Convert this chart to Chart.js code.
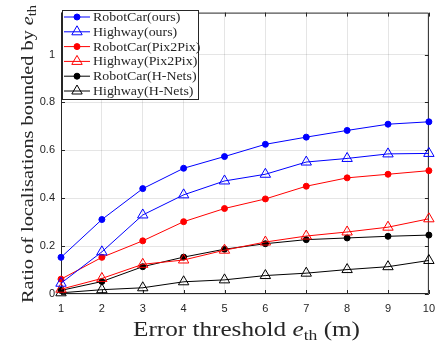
<!DOCTYPE html>
<html>
<head>
<meta charset="utf-8">
<script src="https://cdn.jsdelivr.net/npm/chart.js@4/dist/chart.umd.min.js"></script>
<style>
html,body{margin:0;padding:0;background:#fff;}
#c{display:block;}
</style>
</head>
<body>
<canvas id="c" width="443" height="345"></canvas>
<script>
// ---- data ----
const thresholds = [1, 2, 3, 4, 5, 6, 7, 8, 9, 10];
const robotCarOurs = [0.153, 0.311, 0.440, 0.525, 0.574, 0.625, 0.655, 0.683, 0.709, 0.719];
const highwayOurs = [0.045, 0.176, 0.330, 0.414, 0.472, 0.500, 0.551, 0.566, 0.585, 0.587];
const robotCarPix2Pix = [0.062, 0.153, 0.222, 0.302, 0.357, 0.397, 0.450, 0.485, 0.500, 0.515];
const highwayPix2Pix = [0.020, 0.065, 0.124, 0.142, 0.183, 0.217, 0.242, 0.259, 0.279, 0.314];
const robotCarHNets = [0.015, 0.052, 0.114, 0.154, 0.187, 0.210, 0.227, 0.234, 0.241, 0.246];
const highwayHNets = [0.005, 0.018, 0.026, 0.051, 0.059, 0.077, 0.087, 0.102, 0.114, 0.140];
const seriesLabels = ['RobotCar(ours)', 'Highway(ours)', 'RobotCar(Pix2Pix)', 'Highway(Pix2Pix)', 'RobotCar(H-Nets)', 'Highway(H-Nets)'];
const yTickValues = [0, 0.2, 0.4, 0.6, 0.8, 1];

const AX = '#262626';
const SERIF = '"Liberation Serif", "Times New Roman", serif';
const SANS = '"Liberation Sans", Arial, sans-serif';

function pts(vals) { return thresholds.map((x, i) => ({x: x, y: vals[i]})); }
function ds(label, vals, color, tri) {
  return {
    label: label,
    data: pts(vals),
    borderColor: color,
    backgroundColor: tri ? 'rgba(0,0,0,0)' : color,
    pointBackgroundColor: tri ? 'rgba(0,0,0,0)' : color,
    pointBorderColor: color,
    pointStyle: tri ? 'triangle' : 'circle',
    pointRadius: tri ? 6 : 3,
    pointBorderWidth: 1,
    borderWidth: 1,
    tension: 0,
    clip: false
  };
}

// draw centred text made of parts, stretched horizontally to a target width
function drawMixed(ctx, parts, x, y, targetW) {
  let total = 0;
  parts.forEach(p => { ctx.font = p.font; p.w = ctx.measureText(p.text).width; total += p.w; });
  const sx = targetW ? targetW / total : 1;
  ctx.save();
  ctx.translate(x, y);
  ctx.scale(sx, 1);
  let cx = -total / 2;
  ctx.textAlign = 'left';
  ctx.textBaseline = 'alphabetic';
  parts.forEach(p => { ctx.font = p.font; ctx.fillText(p.text, cx, p.dy || 0); cx += p.w; });
  ctx.restore();
}

const decor = {
  id: 'decor',
  beforeDatasetsDraw(chart) {
    const {ctx, chartArea: a, scales} = chart;
    ctx.save();
    ctx.strokeStyle = AX;
    ctx.lineWidth = 1;
    ctx.beginPath();
    ctx.rect(a.left + 0.5, a.top + 0.5, a.right - a.left - 1, a.bottom - a.top - 1);
    ctx.stroke();
    const tl = 4;
    ctx.beginPath();
    thresholds.forEach(v => {
      const px = Math.round(scales.x.getPixelForValue(v)) + 0.5;
      ctx.moveTo(px, a.bottom); ctx.lineTo(px, a.bottom - tl);
      ctx.moveTo(px, a.top); ctx.lineTo(px, a.top + tl);
    });
    yTickValues.forEach(v => {
      const py = Math.round(scales.y.getPixelForValue(v)) + 0.5;
      ctx.moveTo(a.left, py); ctx.lineTo(a.left + tl, py);
      ctx.moveTo(a.right, py); ctx.lineTo(a.right - tl, py);
    });
    ctx.stroke();
    ctx.restore();
  },
  afterDraw(chart) {
    const {ctx, chartArea: a} = chart;
    ctx.save();
    ctx.fillStyle = AX;
    // x title
    drawMixed(ctx, [
      {text: 'Error threshold ', font: '20px ' + SERIF},
      {text: 'e', font: 'italic 20px ' + SERIF},
      {text: 'th', font: '14px ' + SERIF, dy: 4},
      {text: ' (m)', font: '20px ' + SERIF}
    ], 246.5, 336, 227);
    // y title
    ctx.save();
    ctx.translate(33, 154);
    ctx.rotate(-Math.PI / 2);
    drawMixed(ctx, [
      {text: 'Ratio of localisations bounded by ', font: '17px ' + SERIF},
      {text: 'e', font: 'italic 17px ' + SERIF},
      {text: 'th', font: '12px ' + SERIF, dy: 3}
    ], 0, 0, 298);
    ctx.restore();
    // legend
    const lx = 62, ly = 10, lw = 137, lh = 90;
    ctx.fillStyle = '#fff';
    ctx.fillRect(lx, ly, lw, lh);
    ctx.strokeStyle = AX;
    ctx.lineWidth = 1;
    ctx.strokeRect(lx + 0.5, ly + 0.5, lw - 1, lh - 1);
    chart.data.datasets.forEach((d, i) => {
      const y = 17 + i * 14.8;
      ctx.strokeStyle = d.borderColor;
      ctx.lineWidth = 1;
      ctx.beginPath(); ctx.moveTo(64, y); ctx.lineTo(90, y); ctx.stroke();
      ctx.fillStyle = d.pointBackgroundColor;
      ctx.strokeStyle = d.borderColor;
      Chart.helpers.drawPoint(ctx, {
        pointStyle: d.pointStyle, radius: d.pointRadius, borderWidth: 1
      }, 77, y);
      ctx.fillStyle = AX;
      ctx.textBaseline = 'middle';
      ctx.save();
      ctx.translate(93, y + 0.5);
      ctx.font = '13px ' + SERIF;
      ctx.scale(1.07, 1);
      ctx.textAlign = 'left';
      ctx.fillText(d.label, 0, 0);
      ctx.restore();
    });
    ctx.restore();
  }
};

new Chart(document.getElementById('c'), {
  type: 'line',
  data: {
    datasets: [
      ds(seriesLabels[0], robotCarOurs, '#0000ff', false),
      ds(seriesLabels[1], highwayOurs, '#0000ff', true),
      ds(seriesLabels[2], robotCarPix2Pix, '#ff0000', false),
      ds(seriesLabels[3], highwayPix2Pix, '#ff0000', true),
      ds(seriesLabels[4], robotCarHNets, '#000000', false),
      ds(seriesLabels[5], highwayHNets, '#000000', true)
    ]
  },
  options: {
    responsive: false,
    animation: false,
    devicePixelRatio: 1,
    layout: {padding: {top: 10, right: 10, left: 0, bottom: 0}},
    plugins: {legend: {display: false}, tooltip: {enabled: false}},
    scales: {
      x: {
        type: 'linear', min: 1, max: 10,
        afterFit(s) { s.height = 51; },
        afterBuildTicks(s) { s.ticks = thresholds.map(v => ({value: v})); },
        border: {display: false},
        grid: {color: 'rgba(38,38,38,0.12)', drawTicks: false},
        ticks: {color: AX, font: {family: SANS, size: 11}, padding: 8, maxRotation: 0,
          callback: v => String(v)}
      },
      y: {
        type: 'linear', min: 0, max: 1.175,
        afterFit(s) { s.width = 61; },
        afterBuildTicks(s) { s.ticks = yTickValues.map(v => ({value: v})); },
        border: {display: false},
        grid: {color: 'rgba(38,38,38,0.12)', drawTicks: false},
        ticks: {color: AX, font: {family: SANS, size: 11}, padding: 6,
          callback: v => String(Math.round(v * 10) / 10)}
      }
    }
  },
  plugins: [decor]
});
</script>
</body>
</html>
